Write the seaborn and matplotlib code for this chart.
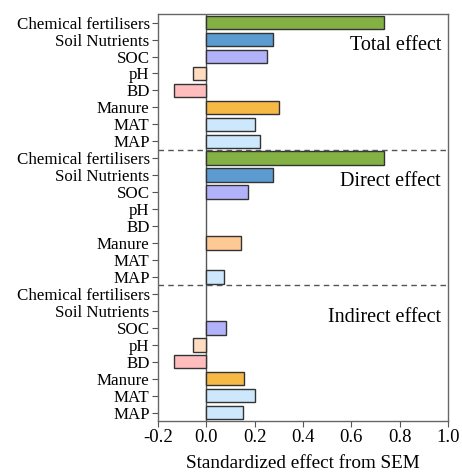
import matplotlib
matplotlib.use("Agg")
import matplotlib.pyplot as plt
import seaborn as sns
import pandas as pd
import numpy as np

variables = ["Chemical fertilisers", "Soil Nutrients", "SOC", "pH", "BD", "Manure", "MAT", "MAP"]
groups = ["Total effect", "Direct effect", "Indirect effect"]
total_effect = [0.733, 0.274, 0.251, -0.055, -0.134, 0.301, 0.200, 0.221]
direct_effect = [0.733, 0.274, 0.171, None, None, 0.145, None, 0.072]
indirect_effect = [None, None, 0.083, -0.055, -0.134, 0.155, 0.200, 0.150]
xticks = [-0.2, 0.0, 0.2, 0.4, 0.6, 0.8, 1.0]

base_colors = {
    "Chemical fertilisers": "#83b144",
    "Soil Nutrients": "#5b9bcf",
    "SOC": "#b2b2fb",
    "pH": "#ffdcc0",
    "BD": "#ffbdbd",
    "Manure": "#f7b945",
    "MAT": "#cde8fd",
    "MAP": "#cde8fd",
}
manure_direct_color = "#ffc994"

rows = []
order = []
palette = {}
for g, vals in zip(groups, [total_effect, direct_effect, indirect_effect]):
    for v, val in zip(variables, vals):
        key = f"{g}|{v}"
        order.append(key)
        c = base_colors[v]
        if g == "Direct effect" and v == "Manure":
            c = manure_direct_color
        palette[key] = c
        if val is not None:
            rows.append({"key": key, "value": val})
df = pd.DataFrame(rows)

plt.rcParams["font.family"] = ["Liberation Serif", "DejaVu Serif"]
fig = plt.figure(figsize=(4.62, 4.72), dpi=100)
ax = fig.add_axes([0.342, 0.108, 0.628, 0.862])

sns.barplot(data=df, x="value", y="key", hue="key", order=order, palette=palette,
            orient="h", width=0.8, edgecolor="#333333", linewidth=1.0, saturation=1,
            legend=False, ax=ax, dodge=False)

ax.set_xlim(-0.2, 1.0)
ax.set_ylim(len(order) - 0.5, -0.5)
ax.set_xticks(xticks)
ax.set_xticklabels([f"{t:.1f}" for t in xticks], fontsize=13.5)
ax.set_yticks(range(len(order)))
ax.set_yticklabels([k.split("|")[1] for k in order], fontsize=12.2)
ax.set_ylabel("")
ax.set_xlabel("Standardized effect from SEM", fontsize=13.8, labelpad=6)

ax.axvline(0, color="#555555", lw=1.0, zorder=0)
for yline in [7.5, 15.5]:
    ax.axhline(yline, color="#555555", lw=1.0, ls=(0, (4, 3)))

for i, g in enumerate(groups):
    ax.text(0.975, 1 - (i * 8 + 1.87) / 24, g, transform=ax.transAxes,
            ha="right", va="center", fontsize=14.5)

for s in ax.spines.values():
    s.set_color("#666666")
    s.set_linewidth(1.0)
ax.tick_params(axis="both", direction="out", color="#555555", length=4, width=0.8, pad=2)

fig.savefig("out.png", dpi=100)
